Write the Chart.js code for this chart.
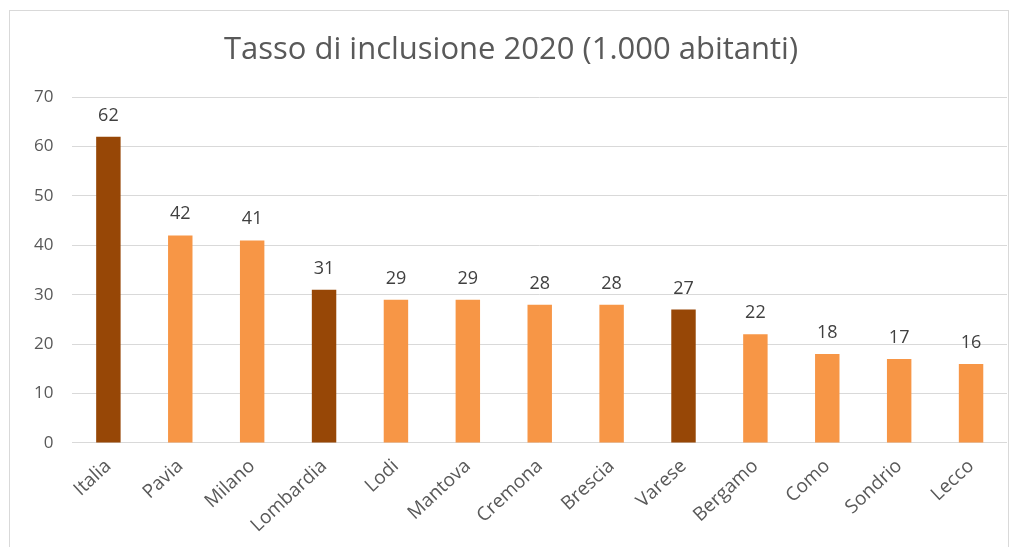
<!DOCTYPE html>
<html>
<head>
<meta charset="utf-8">
<script src="https://cdn.jsdelivr.net/npm/chart.js@4"></script>
<style>
  body { margin: 0; background: #fff; }
  #box { position: absolute; left: 9px; top: 10px; width: 1000px; height: 545px; border: 1px solid #d9d9d9; box-sizing: border-box; }
  #wrap { position: absolute; left: 0; top: 0; width: 1014px; height: 547px; }
</style>
</head>
<body>
<div id="box"></div>
<div id="wrap"><canvas id="myChart"></canvas></div>
<script>
// categories and values
const categories = ['Italia', 'Pavia', 'Milano', 'Lombardia', 'Lodi', 'Mantova', 'Cremona', 'Brescia', 'Varese', 'Bergamo', 'Como', 'Sondrio', 'Lecco'];
const values = [62, 42, 41, 31, 29, 29, 28, 28, 27, 22, 18, 17, 16];
// dark bars for Italia, Lombardia, Varese
const highlighted = ['Italia', 'Lombardia', 'Varese'];
const yTicks = [0, 10, 20, 30, 40, 50, 60, 70];

const darkColor = '#974706';
const lightColor = '#F79646';

// draws the value above each bar
const valueLabels = {
  id: 'valueLabels',
  afterDatasetsDraw(chart) {
    const ctx = chart.ctx;
    const meta = chart.getDatasetMeta(0);
    ctx.save();
    ctx.font = '18px "Open Sans"';
    ctx.fillStyle = '#404040';
    ctx.textAlign = 'center';
    ctx.textBaseline = 'alphabetic';
    meta.data.forEach((bar, i) => {
      ctx.fillText(values[i], bar.x, bar.y - 16);
    });
    ctx.restore();
  }
};

function initChart() {
  const ctx = document.getElementById('myChart');
  new Chart(ctx, {
    type: 'bar',
    data: {
      labels: categories,
      datasets: [{
        label: 'Tasso di inclusione',
        data: values,
        backgroundColor: categories.map(c => highlighted.includes(c) ? darkColor : lightColor),
        categoryPercentage: 1,
        barPercentage: 0.34
      }]
    },
    options: {
      responsive: true,
      maintainAspectRatio: false,
      animation: false,
      layout: { padding: { left: 15, right: 7, top: 10, bottom: 6 } },
      plugins: {
        legend: { display: false },
        tooltip: { enabled: false },
        title: {
          display: true,
          text: 'Tasso di inclusione 2020 (1.000 abitanti)',
          color: '#595959',
          font: { family: 'Open Sans', size: 31, weight: 'normal' },
          padding: { top: 22, bottom: 28 }
        }
      },
      scales: {
        x: {
          grid: { display: false },
          border: { display: false },
          ticks: {
            color: '#595959',
            font: { family: 'Open Sans', size: 19 },
            minRotation: 43,
            maxRotation: 43,
            padding: 4
          }
        },
        y: {
          min: 0,
          max: 70,
          afterBuildTicks: axis => { axis.ticks = yTicks.map(v => ({ value: v })); },
          grid: { color: '#d9d9d9', drawTicks: false },
          border: { display: false },
          ticks: {
            color: '#595959',
            font: { family: 'Open Sans', size: 17 },
            padding: 19
          }
        }
      }
    },
    plugins: [valueLabels]
  });
}

document.addEventListener('DOMContentLoaded', () => initChart());
</script>
</body>
</html>
